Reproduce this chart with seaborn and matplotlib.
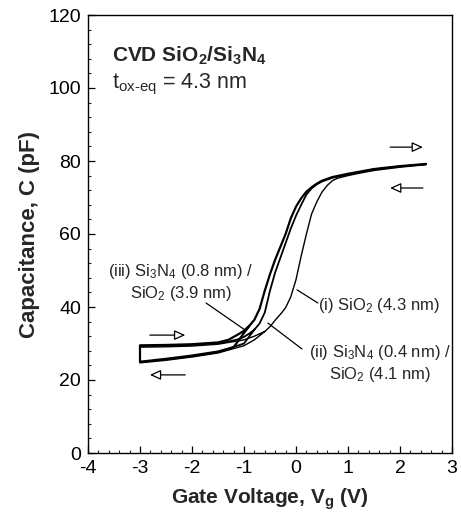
import matplotlib
matplotlib.use("Agg")
import matplotlib.pyplot as plt
import seaborn as sns
import pandas as pd
from matplotlib.ticker import MultipleLocator

sns.set_theme(style="ticks")
plt.rcParams["font.family"] = ["Liberation Sans", "DejaVu Sans"]
plt.rcParams["mathtext.fontset"] = "custom"
plt.rcParams["mathtext.rm"] = "Liberation Sans"
plt.rcParams["mathtext.it"] = "Liberation Sans"
plt.rcParams["mathtext.bf"] = "Liberation Sans:bold"

# Forward sweep, gate voltage in V, capacitance in pF
v_fwd_i = [-3.0, -2.5, -2.0, -1.5, -1.0, -0.8, -0.6, -0.5, -0.4, -0.3, -0.2, -0.1,
           0.0, 0.1, 0.2, 0.3, 0.4, 0.5, 0.6, 0.7, 0.8, 1.0, 1.2, 1.5, 2.0, 2.5]
c_fwd_i = [29.0, 29.1, 29.3, 29.8, 31.0, 32.0, 33.3, 34.6, 36.4, 38.0, 39.8, 42.8,
           47.5, 54.0, 60.0, 65.5, 68.8, 71.5, 73.3, 74.6, 75.3, 76.0, 76.6, 77.4,
           78.3, 79.0]

v_fwd_ii = [-3.0, -2.5, -2.0, -1.5, -1.3, -1.1, -1.0, -0.9, -0.8, -0.7, -0.6, -0.5,
            -0.4, -0.3, -0.2, -0.1, 0.0, 0.1, 0.2, 0.3, 0.4, 0.5, 0.7, 1.0, 1.5,
            2.0, 2.5]
c_fwd_ii = [29.3, 29.4, 29.6, 30.1, 30.5, 31.2, 31.8, 32.7, 33.8, 35.5, 38.5, 44.5,
            49.5, 53.5, 57.5, 61.5, 65.0, 68.0, 70.8, 72.5, 73.6, 74.4, 75.4, 76.3,
            77.7, 78.5, 79.1]

v_fwd_iii = [-3.0, -2.5, -2.0, -1.5, -1.3, -1.2, -1.1, -1.0, -0.9, -0.8, -0.7, -0.6,
             -0.5, -0.4, -0.3, -0.2, -0.1, 0.0, 0.1, 0.2, 0.3, 0.4, 0.5, 0.7, 1.0,
             1.5, 2.0, 2.5]
c_fwd_iii = [29.5, 29.6, 29.8, 30.3, 31.0, 31.8, 32.6, 33.5, 34.8, 36.5, 39.5, 44.5,
             49.0, 53.0, 56.5, 60.0, 64.3, 67.5, 69.8, 71.6, 72.8, 73.8, 74.6, 75.6,
             76.5, 77.8, 78.6, 79.2]

# Reverse sweep, where it departs from the forward branch (descending voltage)
v_rev_i = [-0.6, -0.8, -1.0, -1.5, -2.0, -2.5, -3.0]
c_rev_i = [33.3, 31.0, 29.4, 27.4, 26.3, 25.4, 24.7]

v_rev_ii = [-0.8, -1.0, -1.5, -2.0, -2.5, -3.0]
c_rev_ii = [33.8, 30.0, 27.6, 26.5, 25.6, 24.9]

v_rev_iii = [-0.9, -1.2, -1.5, -2.0, -2.5, -3.0]
c_rev_iii = [34.8, 29.0, 27.8, 26.7, 25.8, 25.0]

x_ticks = [-4, -3, -2, -1, 0, 1, 2, 3]
y_ticks = [0, 20, 40, 60, 80, 100, 120]

loops = {
    "i": (v_rev_i, c_rev_i, v_fwd_i, c_fwd_i),
    "ii": (v_rev_ii, c_rev_ii, v_fwd_ii, c_fwd_ii),
    "iii": (v_rev_iii, c_rev_iii, v_fwd_iii, c_fwd_iii),
}
widths = {"i": 1.0, "ii": 1.3, "iii": 1.6}

fig = plt.figure(figsize=(4.61, 5.27), dpi=100)
ax = fig.add_axes([88 / 461, 1 - 453 / 527, (452 - 88) / 461, (453 - 15) / 527])

for name, (vr, cr, vf, cf) in loops.items():
    # reverse branch down to -3 V, vertical turn-around, then forward sweep
    df = pd.DataFrame({"V": list(vr) + list(vf), "C": list(cr) + list(cf)})
    sns.lineplot(data=df, x="V", y="C", sort=False, estimator=None,
                 color="black", lw=widths[name], ax=ax)

ax.set_xlim(-4, 3)
ax.set_ylim(0, 120)
ax.set_xticks(x_ticks)
ax.set_yticks(y_ticks)
ax.set_xticklabels([str(t) for t in x_ticks])
ax.set_yticklabels([str(t) for t in y_ticks])
ax.xaxis.set_minor_locator(MultipleLocator(0.2))
ax.yaxis.set_minor_locator(MultipleLocator(4))
ax.tick_params(which="major", direction="in", length=5, width=0.9, labelsize=14,
               colors="black", pad=5)
ax.tick_params(which="minor", direction="in", length=2.5, width=0.8)
for s in ax.spines.values():
    s.set_linewidth(1.0)
    s.set_color("black")

ax.set_xlabel(r"Gate Voltage, V$_{\mathbf{g}}$ (V)", fontsize=15, fontweight="bold",
              labelpad=7)
ax.set_ylabel("Capacitance, C (pF)", fontsize=16, fontweight="bold", labelpad=6)

ax.text(0.066, 0.893, r"CVD SiO$_{\mathbf{2}}$/Si$_{\mathbf{3}}$N$_{\mathbf{4}}$",
        transform=ax.transAxes, fontsize=15, fontweight="bold", va="baseline")
ax.text(0.066, 0.833, r"t$_{\text{ox-eq}}$ = 4.3 nm", transform=ax.transAxes,
        fontsize=15.5, va="baseline")

# sweep direction arrows
arrow_kw = dict(arrowstyle="-|>,head_length=0.55,head_width=0.25", color="black",
                lw=0.9, fc="white", shrinkA=0, shrinkB=0)
ax.annotate("", xy=(2.44, 83.8), xytext=(1.81, 83.8), arrowprops=arrow_kw)
ax.annotate("", xy=(1.81, 72.6), xytext=(2.44, 72.6), arrowprops=arrow_kw)
ax.annotate("", xy=(-2.13, 32.3), xytext=(-2.81, 32.3), arrowprops=arrow_kw)
ax.annotate("", xy=(-2.81, 21.4), xytext=(-2.13, 21.4), arrowprops=arrow_kw)

# curve labels with leader lines
lab_fs = 12
ax.text(-2.21, 46.8, "(iii) Si$_3$N$_4$ (0.8 nm) /\nSiO$_2$ (3.9 nm)",
        ha="center", va="center", fontsize=lab_fs, linespacing=1.2)
ax.plot([-1.73, -0.98], [41.1, 33.7], color="black", lw=0.9)

ax.text(0.42, 40.5, "(i) SiO$_2$ (4.3 nm)", ha="left", va="center", fontsize=lab_fs)
ax.plot([0.42, 0.02], [41.1, 44.7], color="black", lw=0.9)

ax.text(1.62, 24.5, "(ii) Si$_3$N$_4$ (0.4 nm) /\nSiO$_2$ (4.1 nm)",
        ha="center", va="center", fontsize=lab_fs, linespacing=1.2)
ax.plot([0.115, -0.54], [28.5, 35.6], color="black", lw=0.9)

fig.savefig("out.png", dpi=100)
